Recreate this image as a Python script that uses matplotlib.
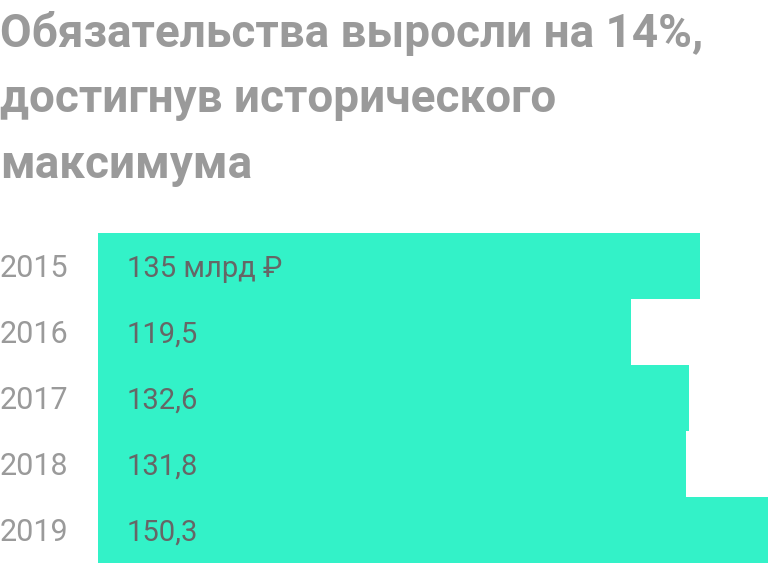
import matplotlib.pyplot as plt

years = ["2015", "2016", "2017", "2018", "2019"]
values = [135.0, 119.5, 132.6, 131.8, 150.3]
value_labels = ["135 млрд ₽", "119,5", "132,6", "131,8", "150,3"]
title_lines = [
    "Обязательства выросли на 14%,",
    "достигнув исторического",
    "максимума",
]

W, H = 768, 564
fonts = ["Roboto", "DejaVu Sans"]

fig = plt.figure(figsize=(W / 100, H / 100), dpi=100)
ax = fig.add_axes([98 / W, 1 - 563 / H, 1 - 98 / W, (563 - 233) / H])

pos = list(range(len(years)))
ax.barh(pos, values, height=1.0, color="#33f2c8", linewidth=0)
ax.set_ylim(len(years) - 0.5, -0.5)
ax.set_xlim(0, max(values))
ax.axis("off")

for i, (year, label) in enumerate(zip(years, value_labels)):
    ax.text(-98 / (W - 98) * max(values), i + 0.04, year, ha="left", va="center",
            fontsize=22, color="#9a9a9a", family=fonts)
    ax.text(29 / (W - 98) * max(values), i + 0.04, label, ha="left", va="center",
            fontsize=21, color="#666666", family=fonts)

baselines = [47, 112, 178]
for line, y in zip(title_lines, baselines):
    fig.text(0, 1 - y / H, line, ha="left", va="baseline", fontsize=33,
             fontweight="bold", color="#9a9a9a", family=fonts)

fig.savefig("out.png", dpi=100)
